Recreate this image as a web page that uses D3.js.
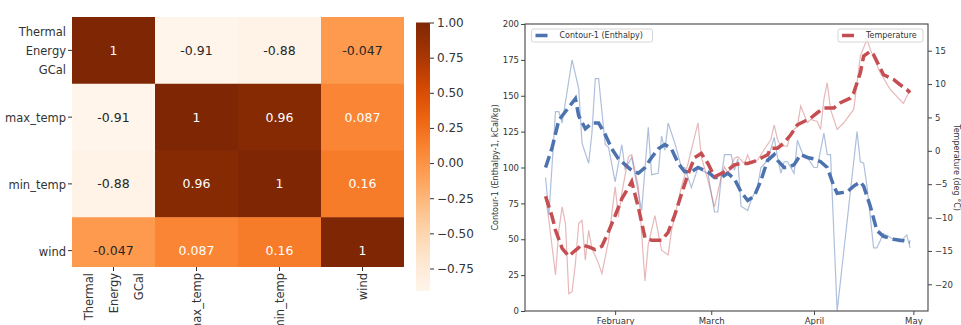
<!DOCTYPE html>
<html>
<head>
<meta charset="utf-8">
<script src="https://cdn.jsdelivr.net/npm/d3@7"></script>
<style>
  body { margin: 0; background: #fff; }
  svg { display: block; font-family: "DejaVu Sans", sans-serif; }
</style>
</head>
<body>
<div id="viz"></div>
<script>
// ---- heatmap data: correlation matrix
const variables = ["Thermal Energy GCal", "max_temp", "min_temp", "wind"];
const correlations = [
  [1, -0.91, -0.88, -0.047],
  [-0.91, 1, 0.96, 0.087],
  [-0.88, 0.96, 1, 0.16],
  [-0.047, 0.087, 0.16, 1]
];
const colorbarTicks = [1, 0.75, 0.5, 0.25, 0, -0.25, -0.5, -0.75];

// ---- line chart data (2020), raw series and their smoothed trend
const enthalpyDates = ["01-11","01-12","01-14","01-15","01-16","01-19","01-21","01-22","01-24","01-25",
  "01-26","01-27","01-29","01-30","02-01","02-03","02-04","02-06","02-09","02-11",
  "02-12","02-14","02-15","02-16","02-17","02-19","02-21","02-22","02-24","02-26",
  "02-27","02-29","03-01","03-02","03-03","03-04","03-05","03-07","03-08","03-09",
  "03-10","03-12","03-13","03-15","03-16","03-18","03-20","03-21","03-22","03-23",
  "03-24","03-26","03-27","03-29","03-30","04-01","04-02","04-04","04-05","04-06",
  "04-08","04-14","04-15","04-16","04-17","04-19","04-20","04-22","04-25","04-27",
  "04-29","04-30"];
const enthalpy = [93,67,139,139,131,175,155,117,103,124,
  162,162,116,114,90,116,99,107,70,128,
  95,96,122,112,131,117,100,100,86,100,
  98,96,82,69,69,93,109,109,98,106,
  73,70,77,87,100,105,121,107,96,104,
  104,96,119,107,107,100,100,124,109,109,
  0,125,104,103,87,44,44,54,50,48,
  53,44];

const temperatureDates = ["01-11","01-12","01-14","01-15","01-16","01-17","01-18","01-19","01-20","01-21",
  "01-22","01-23","01-24","01-25","01-27","01-28","01-30","01-31","02-01","02-02",
  "02-03","02-05","02-06","02-08","02-10","02-11","02-13","02-15","02-17","02-18",
  "02-21","02-23","02-26","02-27","02-29","03-02","03-04","03-05","03-06","03-08",
  "03-09","03-11","03-12","03-13","03-15","03-17","03-19","03-20","03-21","03-22",
  "03-24","03-25","03-27","03-28","03-30","03-31","04-02","04-03","04-04","04-05",
  "04-06","04-08","04-10","04-13","04-15","04-17","04-18","04-21","04-24","04-28",
  "04-30"];
const temperature = [-6.9,-10.4,-18.6,-11.9,-8.4,-10.9,-21.4,-21.1,-16.9,-10.9,
  -10.4,-16.4,-11.9,-14.6,-16.9,-18.4,-13.5,-9.4,-5.4,-9.9,
  -6.4,-0.9,-0.6,-5.4,-19.5,-14,-9.7,-14.9,-15.6,-12,
  -5.4,-1.9,4.2,-0.9,-4.4,-8.4,-3.9,-2.4,-3.4,-1.1,
  -0.9,-1.9,-0.6,-1.9,-1.4,0.2,1.7,3.9,1.7,0.7,
  0.7,2.7,3.7,6.7,4.2,4.7,4.4,3.2,7.7,10.2,
  6.2,3.2,4.2,6.2,14.2,16.7,15.2,11.7,9.2,7.1,
  9.2];

const enthalpyTrendDates = ["01-11","01-13","01-15","01-18","01-20","01-21","01-23","01-25","01-27","01-29",
  "01-31","02-02","02-04","02-06","02-08","02-10","02-12","02-14","02-16","02-18",
  "02-20","02-22","02-24","02-26","02-29","03-02","03-04","03-06","03-08","03-10",
  "03-12","03-14","03-16","03-18","03-20","03-21","03-23","03-24","03-26","03-28",
  "03-30","04-01","04-03","04-05","04-07","04-08","04-11","04-13","04-15","04-16",
  "04-18","04-20","04-22","04-25","04-28","04-30"];
const enthalpyTrend = [100,114,133,142,148,136,127,131,131,123,
  113,106,102,98,96,100,107,113,116,113,
  103,97,97,100,97,93,93,96,92,83,
  77,80,91,105,109,105,100,100,102,109,
  107,106,104,100,87,82,83,87,90,87,
  73,56,52,50,49,48];

const temperatureTrendDates = ["01-11","01-13","01-14","01-16","01-18","01-20","01-22","01-24","01-26","01-28",
  "01-30","02-01","02-03","02-05","02-06","02-08","02-10","02-12","02-15","02-17",
  "02-19","02-21","02-23","02-25","02-27","02-29","03-02","03-04","03-06","03-08",
  "03-10","03-12","03-14","03-16","03-18","03-19","03-21","03-23","03-25","03-27",
  "03-29","03-31","04-02","04-04","04-07","04-09","04-12","04-13","04-15","04-16",
  "04-18","04-19","04-21","04-22","04-25","04-27","04-29","04-30"];
const temperatureTrend = [-6.8,-9.9,-11.9,-14.6,-15.8,-14.9,-14.1,-14.4,-14.8,-14.3,
  -12.1,-9.7,-7.2,-5.5,-4.6,-8.5,-13.0,-13.4,-13.4,-12.2,
  -9.6,-6.5,-3.5,-1.0,-0.4,-1.9,-3.9,-3.4,-2.9,-2.1,
  -1.9,-1.9,-1.6,-1.1,-0.6,0.4,0.4,1.2,2.4,3.9,
  4.4,4.9,5.7,6.4,6.4,7.2,7.9,8.7,11.7,14.2,
  14.9,14.4,12.4,11.4,10.7,9.9,9.2,8.7];

const monthTicks = ["2020-02-01", "2020-03-01", "2020-04-01", "2020-05-01"];
const enthalpyTicks = [0, 25, 50, 75, 100, 125, 150, 175, 200];
const temperatureTicks = [-20, -15, -10, -5, 0, 5, 10, 15];

const textColor = "#333";
const blue = "#4c72b0";
const red = "#c44e52";

const svg = d3.select("#viz")
  .append("svg")
  .attr("width", 961)
  .attr("height", 325);

// ================= heatmap =================
const xBand = d3.scaleBand().domain(variables).range([72, 404]);
const yBand = d3.scaleBand().domain(variables).range([17, 284]);
const allValues = correlations.flat();
const color = d3.scaleSequential(d3.interpolateOranges)
  .domain([d3.min(allValues), d3.max(allValues)]);

svg.append("clipPath").attr("id", "hm-clip")
  .append("rect").attr("x", 72).attr("y", 17).attr("width", 332).attr("height", 250);

const cells = [];
correlations.forEach((row, i) => row.forEach((v, j) => cells.push({ row: variables[i], col: variables[j], v })));

// seaborn picks the annotation colour from the cell luminance
function luminance(c) {
  const rgb = d3.rgb(c);
  const lin = [rgb.r, rgb.g, rgb.b].map(u => {
    u /= 255;
    return u <= 0.03928 ? u / 12.92 : Math.pow((u + 0.055) / 1.055, 2.4);
  });
  return 0.2126 * lin[0] + 0.7152 * lin[1] + 0.0722 * lin[2];
}

const hm = svg.append("g").attr("clip-path", "url(#hm-clip)");
hm.selectAll("rect")
  .data(cells)
  .enter()
  .append("rect")
  .attr("x", d => xBand(d.col))
  .attr("y", d => yBand(d.row))
  .attr("width", xBand.bandwidth() + 0.5)
  .attr("height", yBand.bandwidth() + 0.5)
  .attr("fill", d => color(d.v));

hm.selectAll("text")
  .data(cells)
  .enter()
  .append("text")
  .attr("x", d => xBand(d.col) + xBand.bandwidth() / 2)
  .attr("y", d => yBand(d.row) + yBand.bandwidth() / 2)
  .attr("dy", "0.35em")
  .attr("text-anchor", "middle")
  .attr("font-size", 12.5)
  .attr("fill", d => luminance(color(d.v)) > 0.408 ? "#262626" : "#fff")
  .text(d => String(+d.v.toPrecision(2)));

// y tick labels
const yLab = svg.append("g");
variables.forEach(name => {
  const cy = yBand(name) + yBand.bandwidth() / 2;
  const lines = name.split(" ");
  yLab.append("line")
    .attr("x1", 68).attr("x2", 72).attr("y1", cy).attr("y2", cy)
    .attr("stroke", textColor);
  lines.forEach((ln, k) => {
    yLab.append("text")
      .attr("x", 66)
      .attr("y", cy + 1 + (k - (lines.length - 1) / 2) * 19)
      .attr("dy", "0.35em")
      .attr("text-anchor", "end")
      .attr("font-size", 11.5)
      .attr("fill", textColor)
      .text(ln);
  });
});

// x tick labels (rotated)
const xLab = svg.append("g");
variables.forEach(name => {
  const cx = xBand(name) + xBand.bandwidth() / 2;
  const lines = name.split(" ");
  xLab.append("line")
    .attr("x1", cx).attr("x2", cx).attr("y1", 267).attr("y2", 271)
    .attr("stroke", textColor);
  lines.forEach((ln, k) => {
    xLab.append("text")
      .attr("transform", `translate(${cx + (k - (lines.length - 1) / 2) * 25},273) rotate(-90)`)
      .attr("dy", "0.35em")
      .attr("text-anchor", "end")
      .attr("font-size", 11.5)
      .attr("fill", textColor)
      .text(ln);
  });
});

// colorbar
const cbScale = d3.scaleLinear().domain(color.domain()).range([291, 22.5]);
const grad = svg.append("defs").append("linearGradient")
  .attr("id", "cb-grad")
  .attr("x1", 0).attr("x2", 0).attr("y1", 1).attr("y2", 0);
d3.range(0, 1.001, 0.05).forEach(t => {
  grad.append("stop").attr("offset", t).attr("stop-color", d3.interpolateOranges(t));
});
svg.append("rect")
  .attr("x", 416)
  .attr("y", cbScale(color.domain()[1]))
  .attr("width", 14)
  .attr("height", cbScale(color.domain()[0]) - cbScale(color.domain()[1]))
  .attr("fill", "url(#cb-grad)");

const cbAxis = svg.append("g")
  .attr("transform", "translate(430,0)")
  .call(d3.axisRight(cbScale).tickValues(colorbarTicks).tickFormat(d3.format(".2f")).tickSize(4));
cbAxis.select(".domain").remove();
cbAxis.selectAll("line").attr("stroke", textColor);
cbAxis.selectAll("text").attr("font-size", 12).attr("fill", textColor).attr("font-family", "DejaVu Sans");

// ================= line chart =================
const parseDay = d3.timeParse("%Y-%m-%d");
const day = s => parseDay("2020-" + s);

const x = d3.scaleTime()
  .domain([new Date(2020, 0, 4, 19), new Date(2020, 4, 5, 10)])
  .range([525, 928]);
const yLeft = d3.scaleLinear().domain([0, 200]).range([311, 24]);
const yRight = d3.scaleLinear().domain([-24, 19]).range([311, 24]);

svg.append("clipPath").attr("id", "plot-clip")
  .append("rect").attr("x", 525).attr("y", 24).attr("width", 403).attr("height", 287);

const toPoints = (dates, values) => dates.map((d, i) => ({ date: day(d), value: values[i] }));

const lineLeft = d3.line().x(d => x(d.date)).y(d => yLeft(d.value));
const lineRight = d3.line().x(d => x(d.date)).y(d => yRight(d.value));

const plot = svg.append("g").attr("clip-path", "url(#plot-clip)");

plot.append("path")
  .datum(toPoints(enthalpyDates, enthalpy))
  .attr("fill", "none")
  .attr("stroke", blue)
  .attr("stroke-opacity", 0.45)
  .attr("stroke-width", 1.2)
  .attr("d", lineLeft);

plot.append("path")
  .datum(toPoints(enthalpyTrendDates, enthalpyTrend))
  .attr("fill", "none")
  .attr("stroke", blue)
  .attr("stroke-width", 3.5)
  .attr("stroke-dasharray", "12 5")
  .attr("d", lineLeft);

plot.append("path")
  .datum(toPoints(temperatureDates, temperature))
  .attr("fill", "none")
  .attr("stroke", red)
  .attr("stroke-opacity", 0.4)
  .attr("stroke-width", 1.2)
  .attr("d", lineRight);

plot.append("path")
  .datum(toPoints(temperatureTrendDates, temperatureTrend))
  .attr("fill", "none")
  .attr("stroke", red)
  .attr("stroke-width", 3.5)
  .attr("stroke-dasharray", "12 5")
  .attr("d", lineRight);

// frame
svg.append("rect")
  .attr("x", 525).attr("y", 24).attr("width", 403).attr("height", 287)
  .attr("fill", "none")
  .attr("stroke", "#444")
  .attr("stroke-width", 1.1);

function styleAxis(g) {
  g.select(".domain").remove();
  g.selectAll("line").attr("stroke", "#444");
  g.selectAll("text").attr("font-size", 8.5).attr("fill", textColor).attr("font-family", "DejaVu Sans");
}

svg.append("g")
  .attr("transform", "translate(525,0)")
  .call(d3.axisLeft(yLeft).tickValues(enthalpyTicks).tickSize(4).tickPadding(2))
  .call(styleAxis);

svg.append("g")
  .attr("transform", "translate(928,0)")
  .call(d3.axisRight(yRight).tickValues(temperatureTicks).tickFormat(d3.format("d")).tickSize(4).tickPadding(3))
  .call(styleAxis);

svg.append("g")
  .attr("transform", "translate(0,311)")
  .call(d3.axisBottom(x).tickValues(monthTicks.map(parseDay)).tickFormat(d3.timeFormat("%B")).tickSize(4).tickPadding(3))
  .call(styleAxis);

// axis titles
svg.append("text")
  .attr("transform", "translate(495,167.5) rotate(-90)")
  .attr("text-anchor", "middle")
  .attr("dy", "0.35em")
  .attr("font-size", 8)
  .attr("fill", textColor)
  .text("Contour-1 (Enthalpy-1, kCal/kg)");

svg.append("text")
  .attr("transform", "translate(957,167.5) rotate(90)")
  .attr("text-anchor", "middle")
  .attr("dy", "0.35em")
  .attr("font-size", 8)
  .attr("fill", textColor)
  .text("Temperature (deg °C)");

// legends
function legend(x0, width, stroke, label) {
  const g = svg.append("g");
  g.append("rect")
    .attr("x", x0).attr("y", 29).attr("width", width).attr("height", 13).attr("rx", 2)
    .attr("fill", "#fff").attr("fill-opacity", 0.85)
    .attr("stroke", "#ccc").attr("stroke-width", 0.8);
  g.append("line")
    .attr("x1", x0 + 4).attr("x2", x0 + 17).attr("y1", 35.5).attr("y2", 35.5)
    .attr("stroke", stroke).attr("stroke-width", 3.5).attr("stroke-dasharray", "12 5");
  g.append("text")
    .attr("x", x0 + 28).attr("y", 35.5).attr("dy", "0.35em")
    .attr("font-size", 8).attr("fill", textColor)
    .text(label);
}
legend(531.5, 121, blue, "Contour-1 (Enthalpy)");
legend(838, 85, red, "Temperature");
</script>
</body>
</html>
